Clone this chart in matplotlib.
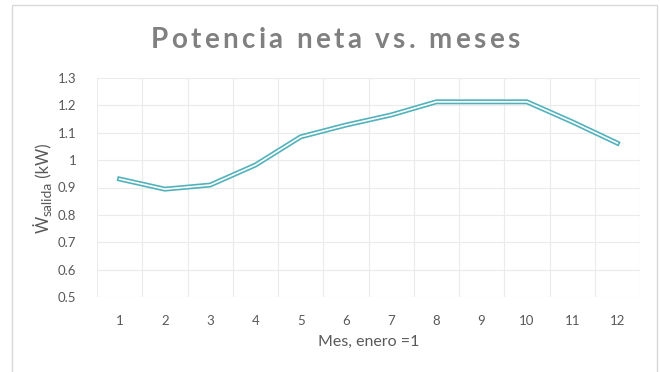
import matplotlib
matplotlib.use("Agg")
import matplotlib.pyplot as plt
from matplotlib.patches import Rectangle

months = [1, 2, 3, 4, 5, 6, 7, 8, 9, 10, 11, 12]
potencia = [0.931, 0.894, 0.909, 0.982, 1.085, 1.128, 1.165, 1.213, 1.213, 1.213, 1.14, 1.062]
yticks = [0.5, 0.6, 0.7, 0.8, 0.9, 1.0, 1.1, 1.2, 1.3]
ytick_labels = ["0.5", "0.6", "0.7", "0.8", "0.9", "1", "1.1", "1.2", "1.3"]
title = "Potencia neta vs. meses"
xlabel = "Mes, enero =1"
ylabel_parts = ["Ẇ", "salida", " (kW)"]

plt.rcParams['font.family'] = ['Lato', 'DejaVu Sans']

W, H = 660, 372
fig = plt.figure(figsize=(W / 100, H / 100), dpi=100)
fig.patch.set_facecolor('white')
renderer = fig.canvas.get_renderer()

# chart border
fig.patches.append(Rectangle((12 / W, -0.05), (657 - 12) / W, 1 - 5 / H + 0.05,
                             transform=fig.transFigure, fill=False,
                             edgecolor='#d9d9d9', linewidth=1.0))

ax = fig.add_axes([97 / W, 1 - 297 / H, (640 - 97) / W, (297 - 78) / H])
ax.set_xlim(0.5, 12.5)
ax.set_ylim(0.5, 1.3)

grid_c = '#ebebeb'
for x in [m + 0.5 for m in [0] + months]:
    ax.axvline(x, color=grid_c, lw=0.8, zorder=0)
for y in yticks:
    ax.axhline(y, color=grid_c, lw=0.8, zorder=0)

ax.plot(months, potencia, color='#52b2bc', lw=3.6, solid_joinstyle='miter', zorder=3)
ax.plot(months, potencia, color='white', lw=1.2, solid_joinstyle='miter', zorder=4)

for s in ax.spines.values():
    s.set_visible(False)

ax.set_xticks(months)
ax.set_xticklabels([str(m) for m in months])
ax.set_yticks(yticks)
ax.set_yticklabels(ytick_labels)
ax.tick_params(axis='both', length=0, labelsize=9.5, labelcolor='#595959')
ax.tick_params(axis='x', pad=13)
ax.tick_params(axis='y', pad=15)

ax.set_xlabel(xlabel, fontsize=11.5, color='#595959', labelpad=6)


def text_width(s, **kw):
    t = fig.text(0, 0, s + "|", **kw)
    w = t.get_window_extent(renderer).width
    t.remove()
    t2 = fig.text(0, 0, "|", **kw)
    w2 = t2.get_window_extent(renderer).width
    t2.remove()
    return w - w2


# Y label composed of pieces, rotated 90 degrees (reading bottom to top)
ylab_kw = dict(fontsize=12, color='#595959')
sub_kw = dict(fontsize=10, color='#595959')
y_cur = 233.0  # pixel from top where the label starts (bottom end)
x_base = 49.0  # baseline position in pixels
pieces = [(ylabel_parts[0], ylab_kw, 0.0), (ylabel_parts[1], sub_kw, 2.5), (ylabel_parts[2], ylab_kw, 0.0)]
for s, kw, dx in pieces:
    w = text_width(s, **kw)
    fig.text((x_base + dx) / W, 1 - y_cur / H, s, rotation=90, ha='left', va='baseline',
             rotation_mode='anchor', **kw)
    y_cur -= w

# Title with letter spacing
tkw = dict(fontsize=20, fontweight='bold', color='#808080')
target_w = 369.0
nat_w = text_width(title, **tkw)
sp = (target_w - nat_w) / (len(title) - 1)
x0 = 335.0 - target_w / 2
for i, ch in enumerate(title):
    if ch == ' ':
        continue
    px = x0 + text_width(title[:i], **tkw) + i * sp
    fig.text(px / W, 1 - 48 / H, ch, ha='left', va='baseline', **tkw)

fig.savefig('out.png', dpi=100, facecolor='white')
